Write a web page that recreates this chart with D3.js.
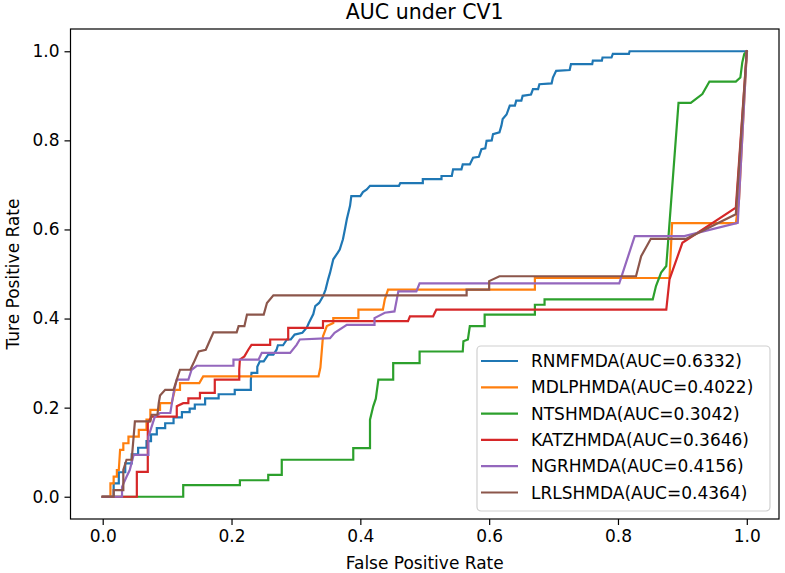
<!DOCTYPE html>
<html>
<head>
<meta charset="utf-8">
<script src="https://cdn.jsdelivr.net/npm/d3@7"></script>
<style>
  body { margin: 0; background: #fff; }
  text { font-family: "DejaVu Sans", sans-serif; }
</style>
</head>
<body>
<div id="chart"></div>
<script>
// series names and AUC labels
const names = ["RNMFMDA", "MDLPHMDA", "NTSHMDA", "KATZHMDA", "NGRHMDA", "LRLSHMDA"];
const aucs = ["0.6332", "0.4022", "0.3042", "0.3646", "0.4156", "0.4364"];
const colors = ["#1f77b4", "#ff7f0e", "#2ca02c", "#d62728", "#9467bd", "#8c564b"];
const ticks = [0.0, 0.2, 0.4, 0.6, 0.8, 1.0];

// ROC points [fpr, tpr]
const rnmfmda = [[0,0],[0.017,0],[0.017,0.03],[0.025,0.03],[0.025,0.055],[0.035,0.055],[0.035,0.075],[0.045,0.075],[0.045,0.095],[0.055,0.095],[0.055,0.11],[0.068,0.11],[0.068,0.125],[0.075,0.125],[0.075,0.14],[0.084,0.14],[0.084,0.154],[0.097,0.154],[0.097,0.165],[0.11,0.165],[0.11,0.178],[0.123,0.178],[0.123,0.19],[0.135,0.19],[0.135,0.198],[0.143,0.198],[0.143,0.207],[0.159,0.207],[0.159,0.221],[0.18,0.221],[0.18,0.23],[0.205,0.23],[0.205,0.24],[0.23,0.24],[0.23,0.262],[0.231,0.278],[0.24,0.278],[0.24,0.292],[0.244,0.304],[0.25,0.304],[0.257,0.319],[0.265,0.319],[0.27,0.33],[0.272,0.34],[0.28,0.34],[0.286,0.353],[0.292,0.353],[0.298,0.364],[0.31,0.368],[0.317,0.38],[0.32,0.39],[0.327,0.41],[0.33,0.428],[0.336,0.435],[0.342,0.45],[0.346,0.465],[0.35,0.488],[0.353,0.503],[0.358,0.533],[0.365,0.548],[0.368,0.555],[0.373,0.578],[0.376,0.6],[0.379,0.623],[0.384,0.653],[0.386,0.675],[0.4,0.675],[0.404,0.684],[0.41,0.69],[0.415,0.698],[0.46,0.698],[0.462,0.704],[0.497,0.704],[0.497,0.713],[0.526,0.713],[0.526,0.72],[0.542,0.72],[0.544,0.735],[0.557,0.735],[0.559,0.746],[0.57,0.746],[0.575,0.761],[0.584,0.763],[0.588,0.78],[0.594,0.782],[0.596,0.799],[0.604,0.8],[0.606,0.814],[0.616,0.818],[0.619,0.833],[0.621,0.848],[0.627,0.858],[0.632,0.878],[0.64,0.878],[0.642,0.889],[0.65,0.889],[0.652,0.9],[0.665,0.903],[0.668,0.915],[0.676,0.915],[0.678,0.926],[0.697,0.928],[0.699,0.941],[0.704,0.956],[0.725,0.958],[0.727,0.971],[0.76,0.971],[0.761,0.979],[0.775,0.979],[0.776,0.986],[0.79,0.986],[0.792,0.994],[0.817,0.994],[0.818,1],[1,1]];
const mdlphmda = [[0,0],[0.012,0],[0.012,0.03],[0.017,0.03],[0.017,0.045],[0.022,0.045],[0.022,0.06],[0.025,0.06],[0.027,0.105],[0.032,0.105],[0.032,0.12],[0.04,0.12],[0.04,0.135],[0.056,0.135],[0.056,0.15],[0.068,0.15],[0.068,0.173],[0.074,0.173],[0.074,0.195],[0.089,0.195],[0.089,0.21],[0.107,0.21],[0.112,0.24],[0.12,0.24],[0.12,0.255],[0.15,0.255],[0.156,0.27],[0.335,0.27],[0.338,0.29],[0.342,0.36],[0.348,0.383],[0.358,0.39],[0.358,0.401],[0.397,0.401],[0.397,0.42],[0.435,0.42],[0.438,0.443],[0.443,0.465],[0.671,0.465],[0.671,0.491],[0.88,0.491],[0.884,0.614],[0.983,0.614],[0.988,0.668],[1,1]];
const ntshmda = [[0,0],[0.125,0],[0.125,0.026],[0.213,0.026],[0.213,0.037],[0.257,0.037],[0.257,0.049],[0.278,0.049],[0.278,0.083],[0.389,0.083],[0.389,0.109],[0.415,0.109],[0.415,0.173],[0.42,0.203],[0.424,0.22],[0.428,0.263],[0.451,0.263],[0.451,0.3],[0.492,0.3],[0.492,0.326],[0.559,0.326],[0.56,0.349],[0.567,0.353],[0.57,0.383],[0.593,0.383],[0.593,0.409],[0.671,0.409],[0.671,0.431],[0.686,0.431],[0.686,0.443],[0.854,0.443],[0.859,0.473],[0.867,0.503],[0.875,0.518],[0.894,0.884],[0.913,0.884],[0.931,0.904],[0.942,0.932],[0.983,0.932],[0.99,0.941],[0.993,0.975],[0.996,0.994],[1,1]];
const katzhmda = [[0,0],[0.053,0],[0.053,0.056],[0.07,0.056],[0.07,0.165],[0.076,0.18],[0.115,0.18],[0.115,0.203],[0.125,0.21],[0.133,0.21],[0.133,0.221],[0.151,0.221],[0.151,0.233],[0.174,0.233],[0.174,0.263],[0.212,0.263],[0.212,0.285],[0.213,0.308],[0.22,0.315],[0.226,0.33],[0.231,0.341],[0.26,0.341],[0.26,0.353],[0.288,0.353],[0.288,0.379],[0.342,0.379],[0.342,0.394],[0.474,0.394],[0.477,0.405],[0.513,0.405],[0.518,0.42],[0.875,0.42],[0.88,0.488],[0.9,0.57],[0.983,0.649],[1,1]];
const ngrhmda = [[0,0],[0.03,0],[0.03,0.022],[0.037,0.045],[0.042,0.06],[0.048,0.094],[0.071,0.094],[0.071,0.135],[0.081,0.18],[0.089,0.188],[0.105,0.188],[0.11,0.233],[0.115,0.263],[0.133,0.263],[0.138,0.285],[0.146,0.294],[0.203,0.294],[0.203,0.308],[0.242,0.308],[0.247,0.323],[0.291,0.323],[0.301,0.341],[0.306,0.353],[0.353,0.356],[0.36,0.368],[0.379,0.386],[0.422,0.386],[0.422,0.401],[0.438,0.413],[0.453,0.416],[0.459,0.461],[0.487,0.461],[0.492,0.479],[0.802,0.479],[0.826,0.585],[0.903,0.585],[0.986,0.615],[1,1]];
const lrlshmda = [[0,0],[0.017,0],[0.017,0.015],[0.032,0.015],[0.032,0.06],[0.037,0.083],[0.045,0.083],[0.05,0.169],[0.074,0.169],[0.076,0.184],[0.085,0.184],[0.087,0.21],[0.089,0.227],[0.097,0.24],[0.11,0.24],[0.115,0.263],[0.12,0.285],[0.136,0.285],[0.141,0.3],[0.149,0.326],[0.16,0.33],[0.167,0.353],[0.172,0.369],[0.208,0.369],[0.211,0.383],[0.22,0.383],[0.224,0.409],[0.25,0.409],[0.255,0.435],[0.265,0.452],[0.565,0.452],[0.565,0.465],[0.6,0.465],[0.6,0.484],[0.616,0.495],[0.828,0.495],[0.836,0.54],[0.851,0.579],[0.906,0.579],[0.983,0.634],[1,1]];
const curves = [rnmfmda, mdlphmda, ntshmda, katzhmda, ngrhmda, lrlshmda];

const W = 785, H = 573;
const frame = { left: 70.5, right: 779, top: 29, bottom: 519 };

const svg = d3.select("#chart").append("svg")
  .attr("width", W).attr("height", H)
  .attr("xmlns", "http://www.w3.org/2000/svg");

const x = d3.scaleLinear().domain([-0.05, 1.05]).range([frame.left, frame.right]);
const y = d3.scaleLinear().domain([-0.05, 1.05]).range([frame.bottom, frame.top]);

const line = d3.line().x(d => x(d[0])).y(d => y(d[1]));

const plot = svg.append("g");
curves.forEach((pts, i) => {
  plot.append("path")
    .attr("d", line(pts))
    .attr("fill", "none")
    .attr("stroke", colors[i])
    .attr("stroke-width", 2.2)
    .attr("stroke-linejoin", "miter")
    .attr("stroke-linecap", "square");
});

// axes
const fmt = d3.format(".1f");
const xAxis = svg.append("g")
  .attr("transform", `translate(0,${frame.bottom})`)
  .call(d3.axisBottom(x).tickValues(ticks).tickFormat(fmt).tickSize(6).tickPadding(5).tickSizeOuter(0));
const yAxis = svg.append("g")
  .attr("transform", `translate(${frame.left},0)`)
  .call(d3.axisLeft(y).tickValues(ticks).tickFormat(fmt).tickSize(6).tickPadding(5).tickSizeOuter(0));
[xAxis, yAxis].forEach(a => {
  a.select(".domain").remove();
  a.selectAll(".tick line").attr("stroke", "#000").attr("stroke-width", 1.2);
  a.selectAll(".tick text").attr("fill", "#000").style("font-size", "17px");
});

svg.append("rect")
  .attr("x", frame.left).attr("y", frame.top)
  .attr("width", frame.right - frame.left).attr("height", frame.bottom - frame.top)
  .attr("fill", "none").attr("stroke", "#000").attr("stroke-width", 1.2);

// titles
const cx = (frame.left + frame.right) / 2;
svg.append("text").attr("x", cx).attr("y", 19).attr("text-anchor", "middle")
  .style("font-size", "20.5px").text("AUC under CV1");
svg.append("text").attr("x", cx).attr("y", 569).attr("text-anchor", "middle")
  .style("font-size", "17px").text("False Positive Rate");
svg.append("text").attr("transform", `translate(19,${(frame.top + frame.bottom) / 2}) rotate(-90)`)
  .attr("text-anchor", "middle").style("font-size", "17px").text("Ture Positive Rate");

// legend
const lg = svg.append("g");
lg.append("rect")
  .attr("x", 477).attr("y", 346).attr("width", 293).attr("height", 165)
  .attr("rx", 4).attr("ry", 4)
  .attr("fill", "#fff").attr("fill-opacity", 0.8)
  .attr("stroke", "#d0d0d0").attr("stroke-width", 1.2);
names.forEach((n, i) => {
  const ry = 361 + i * 26.3;
  lg.append("line").attr("x1", 481).attr("x2", 518).attr("y1", ry).attr("y2", ry)
    .attr("stroke", colors[i]).attr("stroke-width", 2.2);
  lg.append("text").attr("x", 531).attr("y", ry + 6)
    .style("font-size", "17px").text(`${n}(AUC=${aucs[i]})`);
});
</script>
</body>
</html>
